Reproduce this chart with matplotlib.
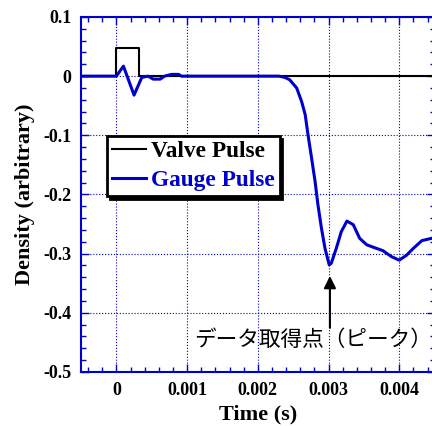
import matplotlib
matplotlib.use("Agg")
import matplotlib.pyplot as plt
from matplotlib.ticker import MultipleLocator

# valve pulse (square)
valve_t = [-0.0005, 0.0, 0.0, 0.00032, 0.00032, 0.0045]
valve_v = [0.0, 0.0, 0.047, 0.047, 0.0, 0.0]

# gauge pulse
gauge_t = [-0.0005, 0.0, 0.0001, 0.00025, 0.00036, 0.00045, 0.00052, 0.00062, 0.00068,
           0.00078, 0.00088, 0.00092, 0.0015, 0.0023, 0.00238, 0.00245, 0.00255, 0.00262,
           0.00267, 0.00271, 0.00276, 0.00281, 0.00285, 0.0029, 0.00295, 0.00301, 0.00304,
           0.00311, 0.00318, 0.00326, 0.00335, 0.00344, 0.00354, 0.00363, 0.00377, 0.00389,
           0.0040, 0.0041, 0.0042, 0.00432, 0.00446, 0.0045]
gauge_v = [0.0, 0.0, 0.017, -0.032, -0.002, 0.0, -0.005, -0.005, 0.0,
           0.003, 0.003, 0.0, 0.0, 0.0, -0.002, -0.006, -0.020, -0.043,
           -0.065, -0.099, -0.138, -0.178, -0.217, -0.257, -0.291, -0.319, -0.316,
           -0.291, -0.263, -0.245, -0.251, -0.274, -0.285, -0.289, -0.295, -0.305,
           -0.311, -0.303, -0.291, -0.278, -0.274, -0.272]

xticks = [0, 0.001, 0.002, 0.003, 0.004]
xlabels = ["0", "0.001", "0.002", "0.003", "0.004"]
yticks = [0.1, 0, -0.1, -0.2, -0.3, -0.4, -0.5]
ylabels = ["0.1", "0", "-0.1", "-0.2", "-0.3", "-0.4", "-0.5"]

peak = (0.00302, -0.333)
note = "データ取得点（ピーク）"

blue = "#0000cc"
serif = "Liberation Serif"

fig = plt.figure(figsize=(4.32, 4.26), dpi=100)
ax = fig.add_axes([0.1875, 0.1268, 0.8185, 0.8333])

ax.plot(valve_t, valve_v, color="black", lw=1.5, label="Valve Pulse", zorder=3)
ax.plot(gauge_t, gauge_v, color=blue, lw=2.2, label="Gauge Pulse", zorder=4)

ax.set_xlim(-0.0005, 0.0045)
ax.set_ylim(-0.5, 0.1)
ax.set_xticks(xticks)
ax.set_xticklabels(xlabels)
ax.set_yticks(yticks)
ax.set_yticklabels(ylabels)
ax.xaxis.set_minor_locator(MultipleLocator(0.0002))
ax.yaxis.set_minor_locator(MultipleLocator(0.02))
ax.tick_params(which="both", direction="in", top=True, right=True, color=blue,
               labelsize=13, pad=7)
ax.tick_params(which="major", length=6, width=1)
ax.tick_params(which="minor", length=3.5, width=1)
for lab in ax.get_xticklabels() + ax.get_yticklabels():
    lab.set_fontfamily(serif)
    lab.set_fontweight("bold")
for sp in ax.spines.values():
    sp.set_color(blue)
    sp.set_linewidth(1.5)
ax.grid(True, which="major", color=blue, ls=":", lw=0.8)

ax.set_xlabel("Time (s)", fontfamily=serif, fontweight="bold", fontsize=16, labelpad=4)
ax.set_ylabel("Density (arbitrary)", fontfamily=serif, fontweight="bold", fontsize=16, labelpad=6)

leg = ax.legend(loc="upper left", bbox_to_anchor=(0.0735, 0.665), borderaxespad=0,
                prop={"family": serif, "weight": "bold", "size": 16.8},
                handlelength=1.45, handletextpad=0.2, labelspacing=0.32,
                borderpad=0.22, fancybox=False, shadow={"color": "black", "alpha": 1},
                framealpha=1)
leg.get_frame().set_edgecolor("black")
leg.get_frame().set_linewidth(2.0)
leg.get_texts()[1].set_color(blue)

ax.annotate("", xy=peak, xytext=(peak[0], -0.43),
            arrowprops=dict(arrowstyle="-|>", color="black", lw=1.5, mutation_scale=18))
ax.text(0.00110, -0.446, note, fontfamily=["Noto Sans CJK JP", "DejaVu Sans"],
        fontsize=15.6, ha="left", va="center")

fig.savefig("out.png", dpi=100)
